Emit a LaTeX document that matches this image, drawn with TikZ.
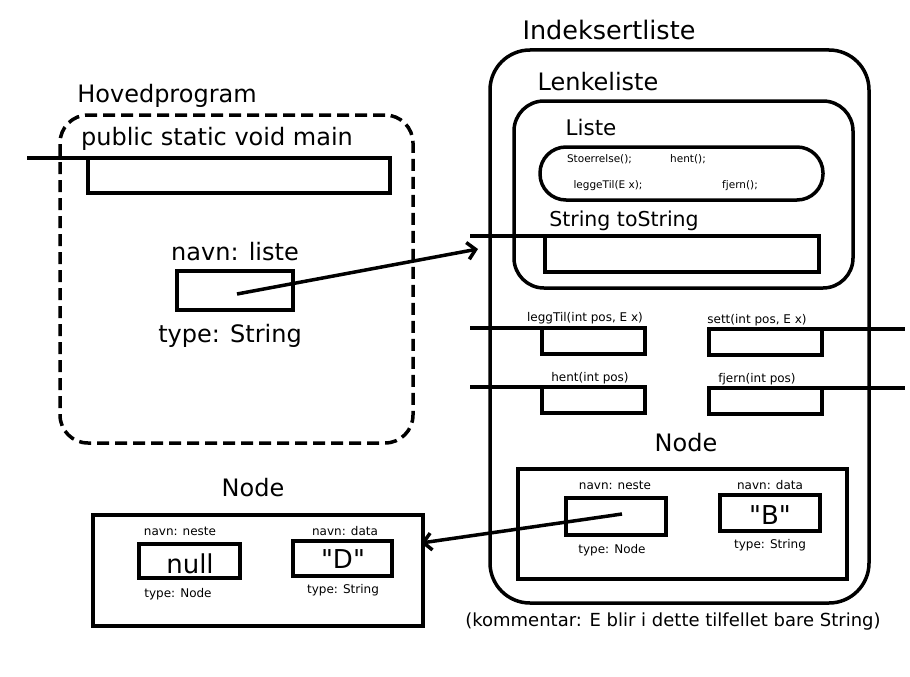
\documentclass[tikz,border=0pt]{standalone}
\usepackage{fontspec}
\setmainfont{DejaVu Sans}
\newfontfamily\valfont{DejaVu Sans}
\usetikzlibrary{arrows.meta}
\begin{document}
\begin{tikzpicture}[x=1pt,y=-1pt,
  lw/.style={line width=3.5pt},
  box/.style={draw, line width=3.5pt, rectangle, inner sep=0pt, outer sep=0pt},
  container/.style={draw, line width=3.5pt, rectangle, inner sep=0pt, outer sep=0pt},
  txt/.style={anchor=base, inner sep=0pt},
  big/.style={txt, font=\fontsize{24}{28}\selectfont},
  mid/.style={txt, font=\fontsize{20.5}{24}\selectfont},
  small/.style={txt, font=\fontsize{12}{14}\selectfont},
  tiny/.style={txt, font=\fontsize{10.5}{12}\selectfont},
  val/.style={txt, font=\valfont\fontsize{26}{30}\selectfont},
  ptr/.style={lw, -{Straight Barb[length=8pt,width=17pt]}}
]
\useasboundingbox (0,0) rectangle (910,677);

% ---------- Hovedprogram ----------
\node[container, dash pattern=on 12pt off 6pt, rounded corners=28pt,
      minimum width=353pt, minimum height=328pt] (hov) at (236.5,279) {};
\node[big] (hovlbl) at (167,102) {Hovedprogram};
\node[big] (mainlbl) at (217,145) {public static void main};
\node[box, minimum width=302pt, minimum height=35pt] (mainbox) at (239,175.5) {};
\coordinate (mainstub) at (27,158);
\draw[lw] (mainstub) -- (mainstub -| mainbox.west);
\node[big] (navnliste) at (235,260) {navn: liste};
\node[box, minimum width=116pt, minimum height=39pt] (listebox) at (235,290.5) {};
\node[big] (typestr) at (230,342) {type: String};

% ---------- Indeksertliste ----------
\node[big, font=\fontsize{25.5}{30}\selectfont] (indlbl) at (609,40) {Indeksertliste};
\node[container, rounded corners=40pt, minimum width=379pt, minimum height=553pt] (ind) at (679.5,326.5) {};
\node[big] (lenlbl) at (598,90) {Lenkeliste};
\node[container, rounded corners=30pt, minimum width=339pt, minimum height=187pt] (len) at (683.5,194.5) {};
\node[big, font=\fontsize{21.5}{25}\selectfont] (listlbl) at (591,135) {Liste};
\node[container, rounded corners=26pt, minimum width=283pt, minimum height=53pt] (pill) at (681.5,173.5) {};
\node[tiny] (m1) at (599.5,162) {Stoerrelse();};
\node[tiny] (m2) at (688,162) {hent();};
\node[tiny] (m3) at (608,188) {leggeTil(E x);};
\node[tiny] (m4) at (740,188) {fjern();};
\node[mid] (tostrlbl) at (624,226) {String toString};
\node[box, minimum width=274pt, minimum height=36pt] (tostr) at (682,254) {};
\coordinate (tostrstub) at (470,236);
\draw[lw] (tostrstub) -- (tostrstub -| tostr.west);

% methods
\node[small] (l1) at (585,321) {leggTil(int pos, E x)};
\node[box, minimum width=103pt, minimum height=26pt] (b1) at (593.5,341) {};
\coordinate (s1) at (470,328);
\draw[lw] (s1) -- (s1 -| b1.west);
\node[small] (l2) at (757,323) {sett(int pos, E x)};
\node[box, minimum width=113pt, minimum height=26pt] (b2) at (765.5,342) {};
\coordinate (s2) at (905,329);
\draw[lw] (s2 -| b2.east) -- (s2);
\node[small] (l3) at (590,381) {hent(int pos)};
\node[box, minimum width=103pt, minimum height=26pt] (b3) at (593.5,400) {};
\coordinate (s3) at (470,387);
\draw[lw] (s3) -- (s3 -| b3.west);
\node[small] (l4) at (757,382) {fjern(int pos)};
\node[box, minimum width=113pt, minimum height=26pt] (b4) at (765.5,401) {};
\coordinate (s4) at (905,388);
\draw[lw] (s4 -| b4.east) -- (s4);

% inner Node
\node[big] (nodelblR) at (686,451) {Node};
\node[container, minimum width=329pt, minimum height=110pt] (nodeR) at (682.5,524) {};
\node[small] (nnR) at (615,489) {navn: neste};
\node[box, minimum width=100pt, minimum height=37pt] (nesteR) at (616,516.5) {};
\node[small] (tnR) at (612,553) {type: Node};
\node[small] (ndR) at (770,489) {navn: data};
\node[box, minimum width=100pt, minimum height=36pt] (dataR) at (770,513) {};
\node[val] (valB) at (770,524) {"B"};
\node[small] (tsR) at (770,548) {type: String};

% ---------- left Node ----------
\node[big] (nodelblL) at (253,496) {Node};
\node[container, minimum width=330pt, minimum height=111pt] (nodeL) at (258,570.5) {};
\node[small] (nnL) at (180,535) {navn: neste};
\node[box, minimum width=101pt, minimum height=34pt] (nesteL) at (189.5,561) {};
\node[val] (valnull) at (190,573) {null};
\node[small] (tnL) at (178,597) {type: Node};
\node[small] (ndL) at (345,535) {navn: data};
\node[box, minimum width=99pt, minimum height=35pt] (dataL) at (342.5,558.5) {};
\node[val] (valD) at (343,568) {"D"};
\node[small] (tsL) at (343,593) {type: String};

% comment
\node[txt, font=\fontsize{18}{22}\selectfont] (comment) at (673,626) {(kommentar: E blir i dette tilfellet bare String)};

% ---------- pointers ----------
\coordinate (p1) at (237,294);
\coordinate (p1end) at (478,249);
\draw[ptr] (p1) -- (p1end);
\coordinate (p2) at (622,514);
\coordinate (p2end) at (421,543);
\draw[ptr] (p2) -- (p2end);
\end{tikzpicture}
\end{document}
